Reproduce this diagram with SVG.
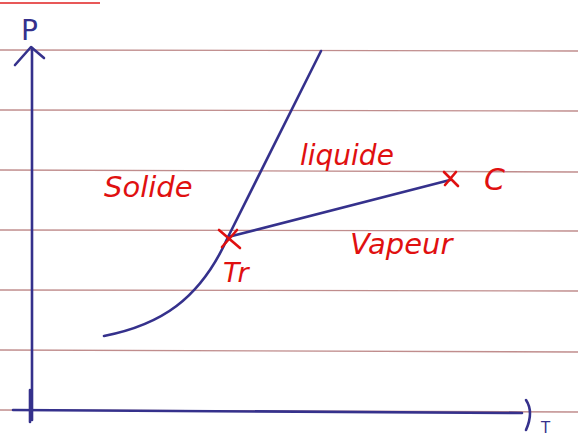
<svg xmlns="http://www.w3.org/2000/svg" width="578" height="439" viewBox="0 0 578 439">
<style>
.rule{stroke:#b07070;stroke-width:1.3;fill:none;opacity:0.8}
.ink{stroke:#35318c;stroke-width:2.6;fill:none;stroke-linecap:round;stroke-linejoin:round}
.red{stroke:#e01010;stroke-width:2.6;fill:none;stroke-linecap:round}
.lbl{fill:#e01010;font-family:"DejaVu Sans","Liberation Sans",sans-serif;font-style:italic}
.axl{fill:#35318c;font-family:"DejaVu Sans","Liberation Sans",sans-serif}
</style>
<rect width="578" height="439" fill="#ffffff"/>
<g id="paper">
<line class="rule" x1="0" y1="50" x2="578" y2="51"/>
<line class="rule" x1="0" y1="110" x2="578" y2="111"/>
<line class="rule" x1="0" y1="170" x2="578" y2="172"/>
<line class="rule" x1="0" y1="230" x2="578" y2="231"/>
<line class="rule" x1="0" y1="290" x2="578" y2="291"/>
<line class="rule" x1="0" y1="350" x2="578" y2="352"/>
<line class="rule" x1="0" y1="410" x2="578" y2="412"/>
<line x1="0" y1="3" x2="100" y2="3" stroke="#e02020" stroke-width="1.5"/>
</g>
<g id="axes">
<path class="ink" d="M32 420 L32 48"/>
<path class="ink" d="M15 65 L31 47 L44 58"/>
<path class="ink" d="M13 410 L522 413"/>
<path class="ink" d="M30 390 L30 422" stroke-width="3.5"/>
<path class="ink" d="M526 400 Q534 412 526 430"/>
<text class="axl" x="21" y="40" font-size="28">P</text>
<text class="axl" x="541" y="433" font-size="15">T</text>
</g>
<g id="connectors">
<path class="ink" d="M104 336 C160 325 200 300 228 237"/>
<path class="ink" d="M228 237 L321 51"/>
<path class="ink" d="M228 237 L450 180"/>
</g>
<g id="Tr">
<path class="red" d="M219 230 L240 248 M237 230 L222 247"/>
<text class="lbl" x="223" y="282" font-size="27">Tr</text>
</g>
<g id="C">
<path class="red" d="M444 172 L458 186 M456 172 L445 185"/>
<text class="lbl" x="484" y="190" font-size="30">C</text>
</g>
<g id="labels">
<text class="lbl" x="104" y="197" font-size="29">Solide</text>
<text class="lbl" x="300" y="165" font-size="28">liquide</text>
<text class="lbl" x="350" y="254" font-size="29">Vapeur</text>
</g>
</svg>
